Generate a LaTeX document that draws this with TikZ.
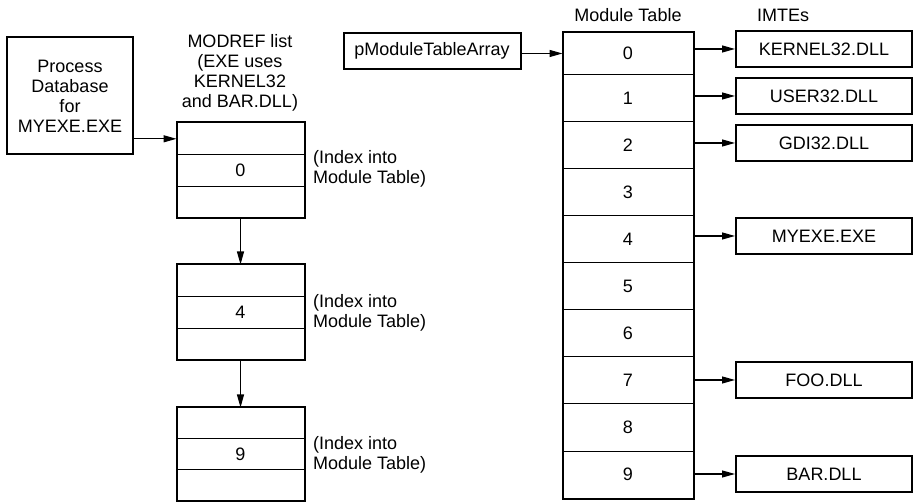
\documentclass[tikz,border=0pt]{standalone}
\usepackage{fontspec}
\setmainfont{Liberation Sans}
\usetikzlibrary{arrows.meta}
\begin{document}
\begin{tikzpicture}[x=1pt,y=-1pt,
  every node/.style={font=\fontsize{18}{20}\selectfont, inner sep=0pt},
  boxnode/.style={draw, line width=2pt, align=center},
  cell/.style={draw, line width=1pt, minimum width=127pt, minimum height=31.6pt},
  tcell/.style={draw, line width=1pt, minimum width=130pt},
  imte/.style={draw, line width=2pt, minimum width=176pt, minimum height=36pt},
  outer/.style={line width=2pt},
  arr/.style={line width=1.2pt, -{Triangle[length=13pt,width=7pt]}},
  note/.style={anchor=west, align=left}
]
\useasboundingbox (0,0) rectangle (914,502);

% Process database
\node[boxnode, minimum width=126pt, minimum height=117pt] (pd) at (70,96) {Process\\Database\\for\\MYEXE.EXE};

% MODREF title
\node[align=center] (mtitle) at (240,73) {MODREF list\\(EXE uses\\KERNEL32\\and BAR.DLL)};

% MODREF boxes
\node[cell] (m1a) at (240.5,138.8) {};
\node[cell] (m1b) at (240.5,170.4) {0};
\node[cell] (m1c) at (240.5,202) {};
\draw[outer] (m1a.north west) rectangle (m1c.south east);

\node[cell] (m2a) at (240.5,280.8) {};
\node[cell] (m2b) at (240.5,312.4) {4};
\node[cell] (m2c) at (240.5,344) {};
\draw[outer] (m2a.north west) rectangle (m2c.south east);

\node[cell, minimum height=31pt] (m3a) at (240.5,423.5) {};
\node[cell, minimum height=31pt] (m3b) at (240.5,454.5) {9};
\node[cell, minimum height=31pt] (m3c) at (240.5,485.5) {};
\draw[outer] (m3a.north west) rectangle (m3c.south east);

\node[note] (n1) at (313,169) {(Index into\\Module Table)};
\node[note] (n2) at (313,313) {(Index into\\Module Table)};
\node[note] (n3) at (313,455) {(Index into\\Module Table)};

\draw[arr] (pd.east |- m1a) -- (m1a.west);
\draw[arr] (m1c.south) -- (m2a.north);
\draw[arr] (m2c.south) -- (m3a.north);

% pModuleTableArray
\node[boxnode, minimum width=177pt, minimum height=36pt] (pmt) at (432,51) {pModuleTableArray};

% Module table
\node (ttitle) at (628,15) {Module Table};
\node[tcell, minimum height=41.5pt] (t0) at (628,53.5) {0};
\foreach \i in {1,...,9}{
  \node[tcell, minimum height=47.1pt] (t\i) at (628,{74.3+47.1*(\i-0.5)}) {\i};
}
\draw[outer] (t0.north west) rectangle (t9.south east);

\draw[arr] (pmt.east |- t0) -- (t0.west);

% IMTEs
\node (ititle) at (783,15) {IMTEs};
\node[imte] (k32) at (824,49) {KERNEL32.DLL};
\node[imte] (u32) at (824,96) {USER32.DLL};
\node[imte] (gdi) at (824,143) {GDI32.DLL};
\node[imte] (myexe) at (824,236) {MYEXE.EXE};
\node[imte] (foo) at (824,380) {FOO.DLL};
\node[imte] (bar) at (824,474) {BAR.DLL};

\draw[arr] (t0.east |- k32) -- (k32.west);
\draw[arr] (t1.east |- u32) -- (u32.west);
\draw[arr] (t2.east |- gdi) -- (gdi.west);
\draw[arr] (t4.east |- myexe) -- (myexe.west);
\draw[arr] (t7.east |- foo) -- (foo.west);
\draw[arr] (t9.east |- bar) -- (bar.west);
\end{tikzpicture}
\end{document}
